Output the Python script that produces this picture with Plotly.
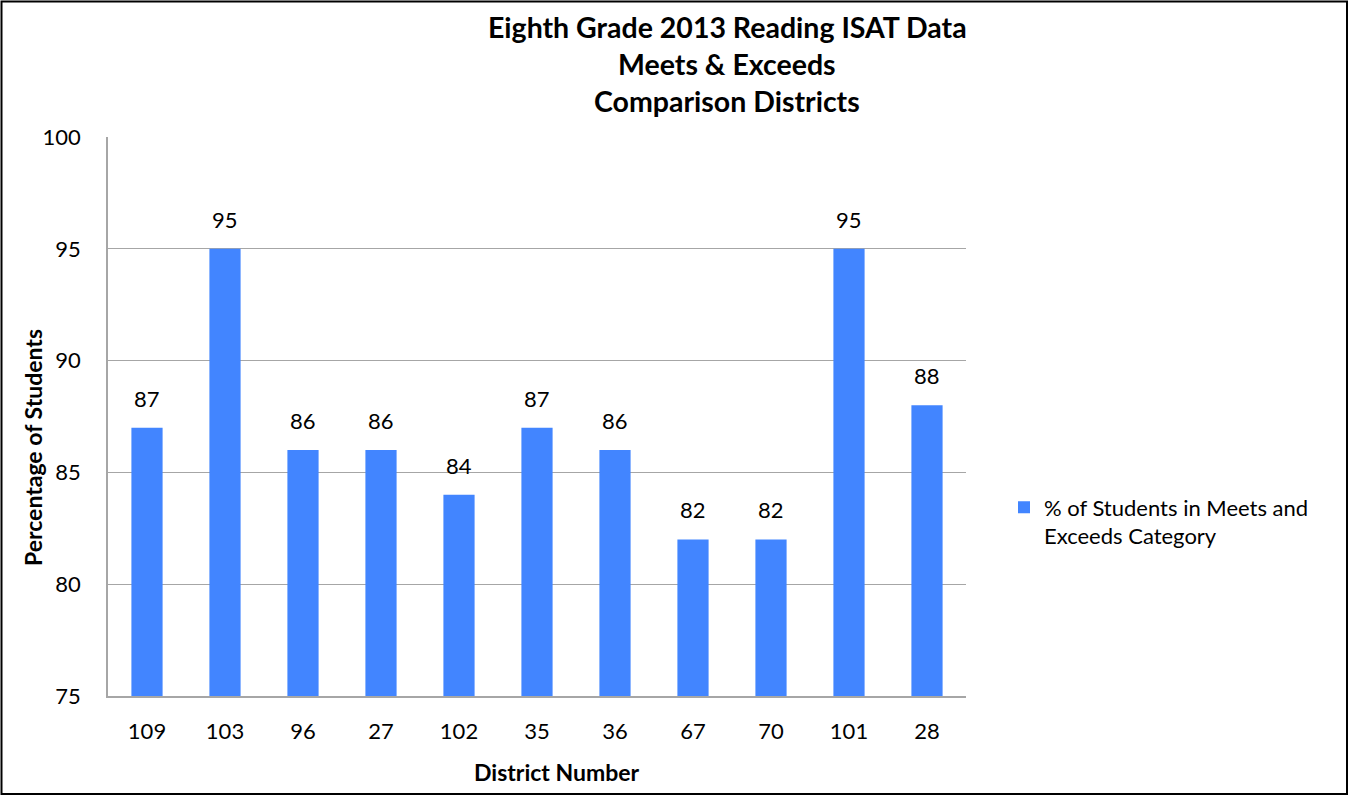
import plotly.graph_objects as go

districts = ["109", "103", "96", "27", "102", "35", "36", "67", "70", "101", "28"]
values = [87, 95, 86, 86, 84, 87, 86, 82, 82, 95, 88]
y_ticks = [75, 80, 85, 90, 95, 100]
series_name = "% of Students in Meets and<br>Exceeds Category"
title_lines = ["Eighth Grade 2013 Reading ISAT Data", "Meets & Exceeds", "Comparison Districts"]

FONT = "Lato, 'Open Sans', sans-serif"
BAR = "#4285FF"

W, H = 1349, 796
L, R, T, B = 108, 383, 137, 100
pw, ph = W - L - R, H - T - B

def px_x(p):
    return (p - L) / pw

def px_y(p):
    return (H - B - p) / ph

fig = go.Figure()
fig.add_trace(go.Bar(
    x=districts, y=values, name=series_name,
    marker=dict(color=BAR, line=dict(width=0)),
    width=0.4, showlegend=True,
))

for i, v in enumerate(values):
    fig.add_annotation(x=i, y=v, text=str(v), showarrow=False,
                       yanchor="bottom", yshift=14,
                       font=dict(family=FONT, size=22, color="black"))

for i, line in enumerate(title_lines):
    fig.add_annotation(xref="paper", yref="paper", x=px_x(727), y=px_y(27 + 37 * i),
                       text="<b>" + line + "</b>", showarrow=False,
                       xanchor="center", yanchor="middle",
                       font=dict(family=FONT, size=28.5, color="black"))

fig.add_annotation(xref="paper", yref="paper", x=px_x(33), y=px_y(448),
                   text="<b>Percentage of Students</b>", showarrow=False, textangle=-90,
                   xanchor="center", yanchor="middle",
                   font=dict(family=FONT, size=23, color="black"))
fig.add_annotation(xref="paper", yref="paper", x=px_x(557), y=px_y(772),
                   text="<b>District Number</b>", showarrow=False,
                   xanchor="center", yanchor="middle",
                   font=dict(family=FONT, size=23, color="black"))

fig.add_shape(type="rect", xref="paper", yref="paper",
              x0=px_x(1.5), x1=px_x(W - 2), y0=px_y(H - 2), y1=px_y(1.5),
              line=dict(color="black", width=2), fillcolor="rgba(0,0,0,0)", layer="above")

fig.update_layout(
    width=W, height=H, autosize=False,
    margin=dict(l=L, r=R, t=T, b=B, pad=0),
    paper_bgcolor="white", plot_bgcolor="white",
    font=dict(family=FONT, size=22, color="black"),
    xaxis=dict(type="category", range=[-0.5, len(districts) - 0.5], showgrid=False,
               showline=True, linecolor="#A6A6A6", linewidth=1.5, tickangle=0,
               ticks="", tickfont=dict(size=22, family=FONT), ticklabelstandoff=15, fixedrange=True),
    yaxis=dict(range=[75, 100], tickvals=y_ticks, showgrid=True, gridcolor="#A6A6A6", gridwidth=1.2,
               showline=True, linecolor="#A6A6A6", linewidth=1.5, zeroline=False,
               ticks="", tickfont=dict(size=22, family=FONT), ticklabelstandoff=21, fixedrange=True),
    legend=dict(x=px_x(1004), y=px_y(522), xanchor="left", yanchor="middle",
                font=dict(family=FONT, size=22, color="black"), bgcolor="rgba(0,0,0,0)",
                itemwidth=30, valign="top"),
    showlegend=True,
)

fig.write_html("out.html", config={"displayModeBar": False},
               post_script="document.body.style.margin='0';document.body.style.overflow='hidden';")
